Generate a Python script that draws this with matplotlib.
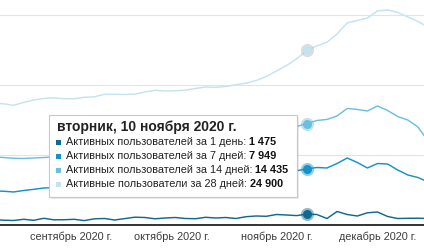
import pandas as pd
import matplotlib
matplotlib.use("Agg")
import matplotlib.pyplot as plt
from matplotlib.patches import Rectangle
from matplotlib.text import Annotation

plt.rcParams['font.family'] = ['Liberation Sans', 'DejaVu Sans']

# data: every 3 days, 9 aug .. 16 dec 2020
dates = pd.date_range('2020-08-09', periods=44, freq='3D')

users_28d = [17380, 17260, 17050, 17450, 17800, 18020, 18120, 17980, 17970, 18190,
             18260, 18620, 18610, 18590, 18630, 18950, 19190, 19090, 19120, 19210,
             19450, 19660, 19620, 19730, 19990, 20210, 20590, 21160, 21950, 22740,
             23670, 24900, 25530, 26060, 27240, 28820, 29170, 29530, 30530, 30670,
             30320, 29670, 29030, 28240]
users_14d = [9650, 9580, 9470, 9440, 9510, 9580, 9650, 9720, 9800, 9870,
             9940, 10080, 10150, 10230, 10300, 10440, 10580, 10650, 10730, 10870,
             11010, 11150, 11300, 11510, 11800, 12080, 12440, 12800, 13230, 13660,
             14010, 14435, 14870, 15020, 15520, 16590, 16450, 16230, 16950, 16300,
             15440, 14940, 13940, 11940]
users_7d = [4790, 4760, 4650, 4860, 5030, 5220, 5290, 5360, 5430, 5450,
            5510, 5580, 5650, 5720, 5790, 5860, 5940, 6010, 6080, 6220,
            6290, 6360, 6510, 6650, 6790, 6940, 7080, 7220, 7370, 7510,
            7690, 7949, 8150, 8080, 8720, 9510, 8870, 8080, 8720, 8650,
            7790, 7080, 6720, 6080]
users_1d = [715, 615, 572, 744, 601, 887, 672, 680, 744, 558,
            815, 858, 644, 844, 1044, 1001, 815, 930, 1001, 858,
            829, 1030, 930, 1001, 858, 1115, 1216, 1173, 1430, 1359,
            1273, 1475, 1430, 858, 1859, 1430, 1216, 1673, 1788, 1144,
            858, 887, 901, 858]

series = [
    ('Активных пользователей за 1 день', users_1d, '#12698f'),
    ('Активных пользователей за 7 дней', users_7d, '#1592c9'),
    ('Активных пользователей за 14 дней', users_14d, '#6dbfe0'),
    ('Активные пользователи за 28 дней', users_28d, '#c3e3f1'),
]
hover_idx = 31
hover_title = 'вторник, 10 ноября 2020 г.'

month_ticks = pd.to_datetime(['2020-09-01', '2020-10-01', '2020-11-01', '2020-12-01'])
month_labels = ['сентябрь 2020 г.', 'октябрь 2020 г.', 'ноябрь 2020 г.', 'декабрь 2020 г.']

fig = plt.figure(figsize=(4.24, 2.48), dpi=100)
ax = fig.add_axes([0, 23.5 / 248, 1, 224.5 / 248])

for name, vals, col in series:
    ax.plot(dates, vals, color=col, lw=1.05, zorder=3)

# hover dots
for name, vals, col in series:
    halo = '#b5b5b5' if vals is users_28d else col
    ax.plot(dates[hover_idx], vals[hover_idx], 'o', ms=9.5, color=halo,
            alpha=0.45, mec='none', zorder=4)
    ax.plot(dates[hover_idx], vals[hover_idx], 'o', ms=6.5, color=col,
            mec='none', zorder=5)

ax.set_xlim(pd.Timestamp('2020-08-11'), pd.Timestamp('2020-12-14 19:00'))
ax.set_ylim(0, 32100)
ax.set_yticks([10000, 20000, 30000])
ax.grid(axis='y', color='#e3e3e3', lw=0.8)
ax.set_xticks(month_ticks)
ax.set_xticklabels(month_labels)
ax.tick_params(axis='x', length=0, pad=5, labelsize=7.85, labelcolor='#3c3c3c')
ax.tick_params(axis='y', length=0, labelleft=False)
for s in ['top', 'right', 'left']:
    ax.spines[s].set_visible(False)
ax.spines['bottom'].set_color('#333333')
ax.spines['bottom'].set_linewidth(1.4)

# tooltip box (figure pixels -> fractions)
W, H = 424.0, 248.0
bx, by, bw, bh = 49, 115, 248, 82
fig.add_artist(Rectangle(((bx + 2) / W, (H - by - bh - 2) / H), bw / W, bh / H,
                         transform=fig.transFigure, fc='#000000', alpha=0.08,
                         ec='none', zorder=6))
fig.add_artist(Rectangle((bx / W, (H - by - bh) / H), bw / W, bh / H,
                         transform=fig.transFigure, fc='white', ec='#c8c8c8',
                         lw=0.8, zorder=7))

fig.text(57 / W, 1 - 127 / H, hover_title, fontsize=10.0, fontweight='bold',
         color='#222222', va='center', ha='left', zorder=8)
rows_y = [142, 156, 170, 184]
for (name, vals, col), ry in zip(series, rows_y):
    fig.add_artist(Rectangle((56 / W, 1 - (ry + 2.5) / H), 5 / W, 5 / H,
                             transform=fig.transFigure, fc=col, ec='none', zorder=8))
    t = fig.text(65.5 / W, 1 - ry / H, name + ':', fontsize=7.8, color='#222222',
                 va='center', ha='left', zorder=8)
    val = '{:,}'.format(vals[hover_idx]).replace(',', ' ')
    a = Annotation(val, xy=(1, 0), xycoords=t, xytext=(3, 0),
                   textcoords='offset pixels', fontsize=7.8, fontweight='bold',
                   color='#111111', va='bottom', ha='left', annotation_clip=False)
    a.set_zorder(8)
    fig.add_artist(a)

fig.savefig('out.png', dpi=100)
